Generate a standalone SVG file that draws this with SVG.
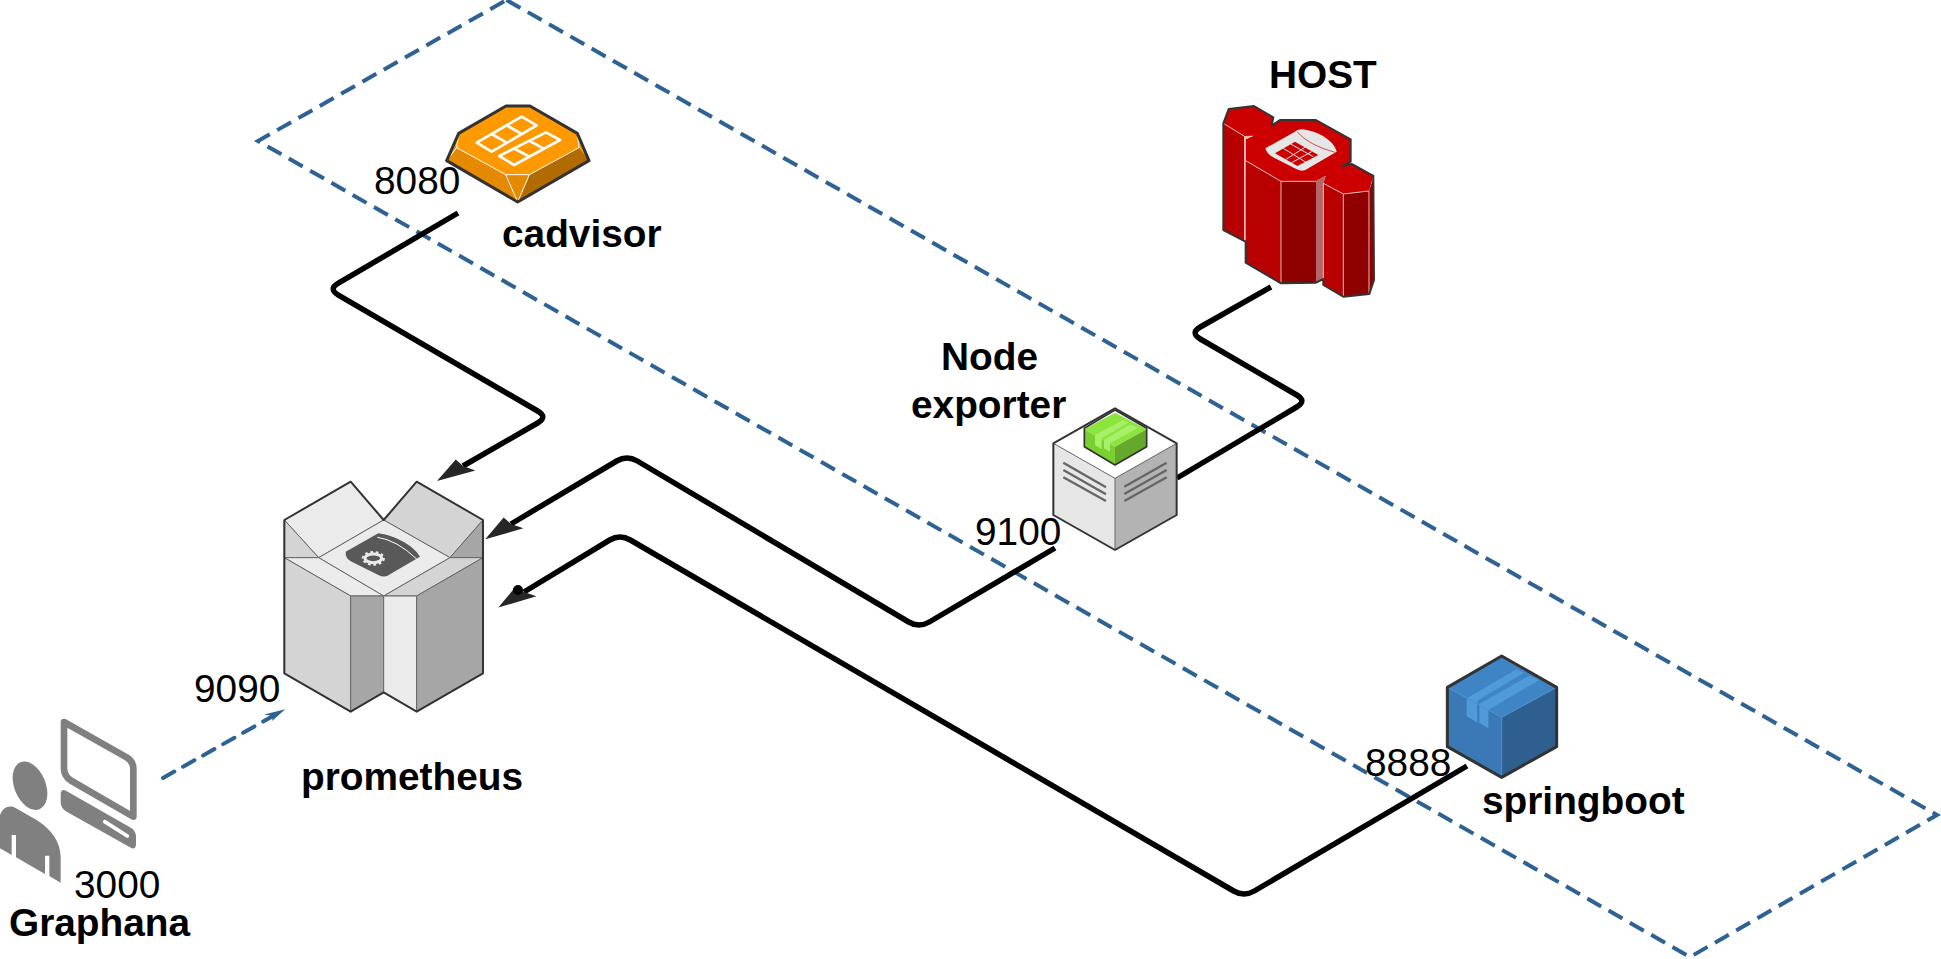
<svg xmlns="http://www.w3.org/2000/svg" width="1941" height="959" viewBox="0 0 1941 959">
<style>
text{font-family:"Liberation Sans",Arial,sans-serif;fill:#000}
.b{font-size:38.800px;font-weight:bold}
.p{font-size:38.800px}
.c{fill:none;stroke:#000;stroke-width:5.500;stroke-linejoin:round}
.d{fill:none;stroke:#2E6295;stroke-width:4;stroke-dasharray:16 8.500}
.e{stroke:#666;stroke-width:3;stroke-linejoin:round}
.o{fill:none;stroke:#333;stroke-linejoin:round}
.w{fill:none;stroke:#fff;stroke-width:3}
.hl{fill:none;stroke:#E6B8B8;stroke-width:3}
.g{fill:#808080}
</style>
<defs>
<marker id="ah" markerUnits="userSpaceOnUse" markerWidth="44" markerHeight="30" refX="10" refY="15" orient="auto"><path d="M40,15L13,24.300L10,15L1.500,5Z" fill="#262626"/></marker>
<marker id="ad" markerUnits="userSpaceOnUse" markerWidth="24" markerHeight="16" refX="8" refY="8" orient="auto"><path d="M22,8L1,2.400L8,8L4.700,12Z" fill="#2E6295"/></marker>
</defs>
<path id="boundary" class="d" d="M506.500,0L1937,815L1690,957L258,141Z"/>
<g id="connectors">
<path class="c" marker-end="url(#ah)" d="M458,213L338.400,283.200Q328,289 338.400,295.200L537.600,411Q548,417 537.600,423L463,466"/>
<path class="c" marker-end="url(#ah)" d="M1055,548L929.300,622Q919,628 908.700,622L637.300,461Q627,455 616.700,461L511,524"/>
<path class="c" marker-end="url(#ah)" d="M1467,766L1254.300,891Q1244,897 1233.700,891L630.300,540Q620,534 609.700,540L524,592"/>
<circle cx="518" cy="590" r="5" fill="#000"/>
<path class="c" d="M1271,287L1200.300,327Q1190,333 1200.300,339L1296.700,395Q1307,401 1296.700,407L1177,478"/>
<path class="d" marker-end="url(#ad)" stroke-linecap="round" style="stroke-dasharray:13 10" d="M163,778L273,716"/>
</g>
<g id="cadvisor">
<g transform="translate(240,0) scale(.33333)">
<path d="M798,318H870L1012,400L1047,482L833,606L620,482L656,400Z" fill="#F90"/>
<path d="M620,482L650,443L797,524L833,606Z" fill="#E58A00"/>
<path d="M1047,482L1017,443L868,524L833,606Z" fill="#B26B00"/>
<path d="M797,524H868L833,606Z" fill="#E58A00"/>
<path class="w" d="M650,443L797,524H868L1017,443L1012,400M656,400L650,443L620,482M797,524L833,606L868,524"/>
<path d="M845,350L890,376L755,455L710,428ZM800,376L845,402M755,402L800,428M918,397L960,420L822,495L778,468ZM871,424L913,447M825,447L868,470" fill="none" stroke="#fff" stroke-width="8" stroke-linejoin="round"/>
<path class="o" stroke-width="9" d="M798,318H870L1012,400L1047,482L833,606L620,482L656,400Z"/>
</g>
<text class="p" x="374" y="194">8080</text>
<text class="b" x="502" y="247">cadvisor</text>
</g>
<g id="host">
<g transform="translate(1180,40) scale(.33333)">
<path d="M130,250L146,207L222,198L280,232L275,257L300,240H408L512,298V365L488,378L515,372L580,408L567,453L490,462L430,430L437,407L408,424H303L197,362V298L220,287L192,288Z" fill="#C00"/>
<path d="M130,250L192,288V605L130,570Z" fill="#B80000"/>
<path d="M192,288H220L197,298V605H192Z" fill="#E6B8B8"/>
<path d="M197,362L303,424V730L197,668Z" fill="#B80000"/>
<path d="M303,424H408V728L303,730Z" fill="#8F0000"/>
<path d="M408,424L437,407L430,430V717L408,728Z" fill="#B36666"/>
<path d="M430,430L490,462V770L430,735Z" fill="#B80000"/>
<path d="M490,462L567,453L582,408V720L568,762L490,770Z" fill="#8F0000"/>
<path class="hl" d="M130,250L192,288M197,362L303,424V730M303,424H408M430,430V735M430,430L490,462V770M490,462L567,453V762"/>
<path d="M256,325L345,275C350,268 365,265 380,270C430,280 465,310 470,335L385,385Q370,398 350,388L285,355Q262,345 256,325Z" fill="#E6E6E6"/>
<path d="M285,340L345,305L415,345L352,378Z" fill="#C00"/>
<path d="M310,325L378,367M332,312L400,350M375,322L318,358M395,335L335,368" fill="none" stroke="#E6E6E6" stroke-width="3"/>
<path d="M352,276Q385,315 465,337" fill="none" stroke="#C00" stroke-width="2"/>
<path class="o" stroke-width="6" d="M130,250L146,207L222,198L280,232L275,257L300,240H408L512,298V365L488,378L515,372L580,408L582,720L568,762L490,770L430,735V717L408,728L303,730L197,668V605L130,570Z"/>
</g>
<text class="b" x="1269" y="88">HOST</text>
</g>
<g id="node-exporter">
<g transform="translate(1030,390) scale(.33333)">
<path d="M255,55L440,160L255,265L70,160Z" fill="#fff"/>
<path d="M70,160L255,265V480L70,375Z" fill="#E6E6E6"/>
<path d="M440,160L255,265V480L440,375Z" fill="#B3B3B3"/>
<path d="M100,218L228,292M100,240L228,313M100,262L228,333M283,290L410,218M283,312L410,240M283,333L410,262" stroke="#666" stroke-width="7" fill="none"/>
<path d="M70,160L255,265L440,160M255,265V480" fill="none" stroke="#666" stroke-width="3"/>
<path class="o" stroke-width="6" d="M255,55L440,160V375L255,480L70,375V160Z"/>
<path d="M255,68L350,118L255,170L163,118Z" fill="#8AE63C"/>
<path d="M163,118L255,170V225L163,172Z" fill="#7AD030"/>
<path d="M350,118L255,170V225L350,170Z" fill="#65A82B"/>
<path d="M195,135L280,90L295,98L215,145V178L195,165ZM222,150L300,103L325,113L240,160V185L222,175Z" fill="#A8F067"/>
<path class="o" stroke-width="5" d="M255,60L350,115V170L255,225L163,170V115Z"/>
</g>
<text class="b" x="941" y="370">Node</text>
<text class="b" x="911" y="418">exporter</text>
<text class="p" x="975" y="545">9100</text>
</g>
<g id="prometheus">
<g transform="translate(260,460) scale(.33333)">
<path class="e" fill="#EBEBEB" d="M73,180L272,65L371,180L176,293Z"/>
<path class="e" fill="#D4D4D4" d="M371,180L470,65L669,180L570,293Z"/>
<path class="e" fill="#D4D4D4" d="M73,180L176,293H73Z"/>
<path class="e" fill="#A6A6A6" d="M669,180L570,293H669Z"/>
<path class="e" fill="#EBEBEB" d="M371,180L570,293L371,408L176,293Z"/>
<path class="e" fill="#EBEBEB" d="M73,293H176L371,408H272Z"/>
<path class="e" fill="#D4D4D4" d="M570,293H669L470,408H371Z"/>
<path class="e" fill="#D4D4D4" d="M73,293L272,408V755L73,640Z"/>
<path class="e" fill="#A6A6A6" d="M272,408H371V697L272,755Z"/>
<path class="e" fill="#EBEBEB" d="M371,408H470V755L371,697Z"/>
<path class="e" fill="#A6A6A6" d="M470,408L669,293V640L470,755Z"/>
<path d="M355,220C400,225 460,255 480,290L390,343Q375,355 355,345L275,305Q255,295 257,275Z" fill="#595959"/>
<path class="w" d="M352,232Q410,240 470,297"/>
<ellipse cx="340" cy="295" rx="25" ry="13" fill="none" stroke="#EBEBEB" stroke-width="9"/>
<ellipse cx="340" cy="295" rx="32" ry="19" fill="none" stroke="#EBEBEB" stroke-width="6" stroke-dasharray="8 8"/>
<path class="o" stroke-width="6" d="M73,180L272,65L371,180L470,65L669,180V640L470,755L371,697L272,755L73,640Z"/>
</g>
<text class="p" x="194" y="702">9090</text>
<text class="b" x="301" y="790">prometheus</text>
</g>
<g id="springboot">
<g transform="translate(1400,630) scale(.33333)">
<path d="M305,78L470,172L305,262L142,172Z" fill="#3F84C5"/>
<path d="M142,172L305,262V442L142,350Z" fill="#3A79B5"/>
<path d="M470,172L305,262V442L470,350Z" fill="#2E5F8F"/>
<path d="M200,205L350,118L372,128L232,212V278L200,258ZM238,222L388,137L418,150L265,240V295L238,278Z" fill="#4F9BD9"/>
<path d="M142,172L305,262L470,172M305,262V442" fill="none" stroke="#4A90D0" stroke-width="3"/>
<path class="o" stroke-width="9" d="M305,78L470,172V350L305,442L142,350V172Z"/>
</g>
<text class="p" x="1365" y="776">8888</text>
<text class="b" x="1482" y="814">springboot</text>
</g>
<g id="graphana">
<g transform="translate(0,700) scale(.33333)">
<path d="M192,66L380,172Q400,185 400,205V350L215,243Q192,230 192,205Z" fill="none" stroke="#808080" stroke-width="20" stroke-linejoin="round"/>
<path class="g" d="M182,285Q182,265 198,272L390,382Q408,392 408,410V435Q405,452 390,442L200,335Q182,325 182,305Z"/>
<path d="M314,365L382,408" stroke="#fff" stroke-width="11" stroke-linecap="round"/>
<ellipse class="g" cx="90" cy="257" rx="47" ry="76" transform="rotate(-22 90 257)"/>
<path class="g" d="M0,345Q10,315 40,320L110,360Q180,405 182,470V548L148,528V467H135V522L48,472V405H35V465L0,445Z"/>
</g>
<text class="p" x="74" y="898">3000</text>
<text class="b" x="9" y="936">Graphana</text>
</g>
</svg>
